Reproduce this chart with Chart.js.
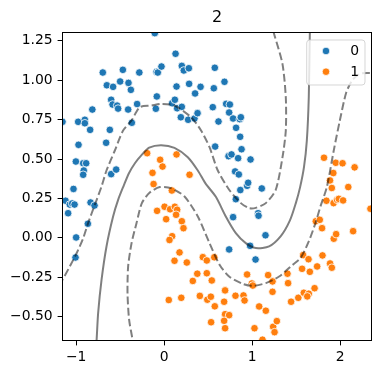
<!DOCTYPE html>
<html><head><meta charset="utf-8">
<script src="https://cdn.jsdelivr.net/npm/chart.js@4/dist/chart.umd.min.js"></script>
<style>html,body{margin:0;padding:0;background:#fff;}canvas{display:block;}</style>
</head><body>
<canvas id="c" width="381" height="374"></canvas>
<script>
// ---- data ----
const titleText = '2';
const seriesNames = ['0', '1'];
const xTicks = [-1, 0, 1, 2];
const yTicks = [-0.5, -0.25, 0, 0.25, 0.5, 0.75, 1.0, 1.25];
const xRange = [-1.155, 2.357];
const yRange = [-0.652, 1.303];

const class0X = [-1.155,-0.697,-0.469,-0.282,-0.651,-0.580,-0.500,-0.405,-0.378,-0.816,
-0.602,-0.586,-0.534,-0.523,-0.409,-0.307,-0.977,-0.901,-0.901,-0.841,
-0.617,-0.367,-0.973,-0.659,-1.003,-0.920,-0.886,-0.913,-0.920,-0.602,
-0.545,-1.030,-0.106,0.130,-0.086,-0.072,-0.030,0.201,0.224,0.281,
0.576,0.141,0.284,0.352,0.414,0.565,-0.083,-0.094,0.091,0.122,
0.148,0.201,0.190,0.273,0.345,0.380,0.553,0.618,0.580,0.686,
0.705,0.747,0.739,0.784,0.860,0.872,0.818,0.864,0.880,0.732,
0.766,0.841,0.982,0.807,0.849,0.943,0.955,1.110,0.866,-1.120,
-1.072,-1.045,-1.018,-1.091,-0.836,-0.791,-0.867,-1.000,-1.007,0.815,
0.784,1.068,1.073,1.152,0.739,0.977,1.039];
const class0Y = [0.736,1.049,1.066,1.049,0.968,0.958,0.992,0.983,0.939,0.814,
0.876,0.846,0.839,0.820,0.814,0.849,0.736,0.749,0.727,0.685,
0.685,0.730,0.590,0.603,0.484,0.473,0.473,0.427,0.400,0.404,
0.433,0.310,1.299,1.168,1.053,1.049,1.087,1.091,1.062,1.076,
1.079,0.960,0.977,0.916,0.958,0.949,0.897,0.819,0.854,0.876,
0.822,0.831,0.765,0.749,0.757,0.791,0.829,0.738,0.579,0.990,
0.850,0.846,0.795,0.757,0.753,0.765,0.698,0.641,0.562,0.518,
0.529,0.505,0.497,0.421,0.402,0.330,0.349,0.313,0.303,0.235,
0.211,0.218,0.211,0.156,0.224,0.205,0.089,0.002,-0.125,0.245,
0.131,0.156,0.140,0.016,-0.074,-0.051,-0.138];

const class1X = [-0.193,-0.045,0.141,-0.018,-0.132,0.289,-0.120,0.088,-0.080,0.005,
0.068,0.122,0.148,0.136,0.023,0.201,0.220,0.091,0.061,0.175,
0.118,0.258,0.440,0.485,0.570,0.377,0.485,0.326,0.542,0.053,
0.195,0.406,0.491,0.531,0.576,0.534,0.943,1.182,1.232,1.402,
1.409,0.997,1.008,0.693,0.811,0.902,0.914,1.232,0.682,1.443,
1.080,1.156,0.693,0.739,0.682,0.693,1.027,1.239,1.281,1.255,
1.118,1.525,1.817,1.951,2.028,2.165,1.923,1.885,2.093,1.906,
1.845,1.926,1.966,1.985,2.034,2.345,1.724,1.769,1.795,1.928,
1.955,2.148,1.580,1.641,1.800,1.568,1.656,1.739,1.886,1.906,
1.710,1.588,1.644,1.627];
const class1Y = [0.537,0.495,0.529,0.452,0.412,0.400,0.341,0.300,0.171,0.197,
0.181,0.197,0.178,0.146,0.118,0.105,0.061,0.010,-0.014,-0.093,
-0.146,-0.157,-0.123,-0.144,-0.124,-0.228,-0.225,-0.274,-0.271,-0.395,
-0.381,-0.369,-0.393,-0.374,-0.435,-0.536,-0.233,-0.237,-0.277,-0.228,
-0.288,-0.290,-0.303,-0.334,-0.368,-0.366,-0.398,-0.343,-0.406,-0.406,
-0.436,-0.463,-0.485,-0.491,-0.527,-0.574,-0.574,-0.565,-0.529,-0.599,
-0.647,-0.381,0.508,0.476,0.473,0.447,0.411,0.364,0.322,0.316,
0.235,0.220,0.241,0.247,0.237,0.184,0.105,0.114,0.061,-0.006,
0.023,0.042,-0.110,-0.136,-0.112,-0.197,-0.216,-0.182,-0.163,-0.190,
-0.320,-0.349,-0.355,-0.372];

// decision-function contour traces (level 0 solid, levels -1/+1 dashed)
const level0X = [-0.780,-0.768,-0.750,-0.711,-0.655,-0.580,-0.520,-0.460,-0.400,-0.330,-0.257,-0.170,-0.034,0.118,0.269,0.383,0.470,0.588,0.701,0.815,0.928,1.042,1.193,1.326,1.430,1.497,1.545,1.590,1.622,1.644,1.656,1.658];
const level0Y = [-0.73,-0.654,-0.478,-0.266,-0.055,0.135,0.245,0.330,0.410,0.475,0.525,0.572,0.588,0.571,0.511,0.427,0.345,0.260,0.135,0.029,-0.034,-0.065,-0.055,0.010,0.110,0.220,0.320,0.450,0.617,0.890,1.296,1.35];
const levelAX = [-1.20,-1.155,-1.072,-0.995,-0.920,-0.864,-0.788,-0.711,-0.655,-0.560,-0.466,-0.370,-0.276,-0.148,-0.034,0.118,0.307,0.420,0.516,0.610,0.739,0.872,0.966,1.042,1.156,1.269,1.345,1.383,1.383,1.345,1.250,1.224];
const levelAY = [-0.300,-0.266,-0.182,-0.098,-0.003,0.093,0.209,0.326,0.427,0.554,0.681,0.745,0.829,0.839,0.850,0.839,0.765,0.681,0.575,0.427,0.305,0.220,0.188,0.190,0.220,0.305,0.510,0.681,0.890,1.104,1.294,1.347];
const levelBX = [-0.350,-0.359,-0.398,-0.416,-0.409,-0.370,-0.314,-0.253,-0.163,-0.049,0.080,0.232,0.383,0.516,0.630,0.739,0.891,1.005,1.156,1.307,1.460,1.550,1.644,1.720,1.777,1.849,1.928,1.997,2.070,2.144,2.235,2.383];
const levelBY = [-0.70,-0.647,-0.520,-0.352,-0.182,-0.034,0.093,0.220,0.287,0.322,0.315,0.262,0.135,-0.034,-0.171,-0.246,-0.292,-0.305,-0.288,-0.246,-0.172,-0.129,-0.023,0.093,0.199,0.321,0.554,0.744,0.922,1.004,1.043,1.046];

// ---- styling ----
const FONT = 'DejaVu Sans';
const colors = ['#1f77b4', '#ff7f0e'];
const lineColor = 'rgba(0,0,0,0.5)';

function pts(xs, ys) { return xs.map((x, i) => ({ x: x, y: ys[i] })); }
function minus(s) { return s.replace('-', '\u2212'); }

const framePlugin = {
  id: 'frame',
  afterDatasetsDraw(chart) {
    const { ctx, chartArea: a } = chart;
    ctx.save();
    ctx.strokeStyle = '#000';
    ctx.lineWidth = 1;
    ctx.strokeRect(a.left, a.top, a.right - a.left, a.bottom - a.top);
    ctx.restore();
  }
};

const legendPlugin = {
  id: 'mlegend',
  afterDraw(chart) {
    const { ctx, chartArea: a } = chart;
    const x0 = a.right - 64.8, y0 = a.top + 7.5, w = 58.3, h = 45;
    ctx.save();
    ctx.beginPath();
    ctx.roundRect(x0, y0, w, h, 3);
    ctx.fillStyle = 'rgba(255,255,255,0.8)';
    ctx.fill();
    ctx.strokeStyle = 'rgba(204,204,204,0.8)';
    ctx.lineWidth = 1;
    ctx.stroke();
    seriesNames.forEach((name, i) => {
      const cy = y0 + 11 + i * 20.7;
      ctx.beginPath();
      ctx.arc(x0 + 19.3, cy, 3.8, 0, Math.PI * 2);
      ctx.fillStyle = colors[i];
      ctx.fill();
      ctx.strokeStyle = '#fff';
      ctx.lineWidth = 0.8;
      ctx.stroke();
      ctx.fillStyle = '#000';
      ctx.font = '13.9px "' + FONT + '"';
      ctx.textBaseline = 'middle';
      ctx.textAlign = 'left';
      ctx.fillText(name, x0 + 43.5, cy + 0.5);
    });
    ctx.restore();
  }
};

const contourBase = {
  showLine: true, pointRadius: 0, pointHoverRadius: 0, fill: false,
  borderColor: lineColor, borderWidth: 2, tension: 0.25, clip: 0
};

new Chart(document.getElementById('c'), {
  type: 'scatter',
  data: {
    datasets: [
      Object.assign({}, contourBase, { label: 'level0', data: pts(level0X, level0Y) }),
      Object.assign({}, contourBase, { label: 'levelA', data: pts(levelAX, levelAY), borderDash: [7.7, 3.3] }),
      Object.assign({}, contourBase, { label: 'levelB', data: pts(levelBX, levelBY), borderDash: [7.7, 3.3] }),
      { label: seriesNames[0], data: pts(class0X, class0Y), backgroundColor: colors[0], borderColor: '#fff', borderWidth: 0.8, pointRadius: 3.8, clip: 0 },
      { label: seriesNames[1], data: pts(class1X, class1Y), backgroundColor: colors[1], borderColor: '#fff', borderWidth: 0.8, pointRadius: 3.8, clip: 0 }
    ]
  },
  options: {
    responsive: false, animation: false, devicePixelRatio: 1, events: [],
    layout: { padding: { left: 0, right: 9.5, top: 0, bottom: 0 } },
    plugins: {
      legend: { display: false },
      tooltip: { enabled: false },
      title: {
        display: true, text: titleText, fullSize: false, color: '#000',
        font: { family: FONT, size: 16, weight: 'normal', lineHeight: 1.2 },
        padding: { top: 8.7, bottom: 4.6 }
      }
    },
    scales: {
      x: {
        type: 'linear', min: xRange[0], max: xRange[1],
        afterBuildTicks: s => { s.ticks = xTicks.map(v => ({ value: v })); },
        afterFit: s => { s.height = 33.5; },
        ticks: { callback: v => minus(String(v)), color: '#000', font: { family: FONT, size: 13.9 }, padding: 4, maxRotation: 0, autoSkip: false },
        grid: { display: true, drawOnChartArea: false, drawTicks: true, tickLength: 4.9, color: '#000', lineWidth: 1 },
        border: { display: false }
      },
      y: {
        type: 'linear', min: yRange[0], max: yRange[1],
        afterBuildTicks: s => { s.ticks = yTicks.map(v => ({ value: v })); },
        afterFit: s => { s.width = 62.5; },
        ticks: { callback: v => minus(Number(v).toFixed(2)), color: '#000', font: { family: FONT, size: 13.9 }, padding: 5, autoSkip: false },
        grid: { display: true, drawOnChartArea: false, drawTicks: true, tickLength: 4.9, color: '#000', lineWidth: 1 },
        border: { display: false }
      }
    }
  },
  plugins: [framePlugin, legendPlugin]
});
</script>
</body></html>
